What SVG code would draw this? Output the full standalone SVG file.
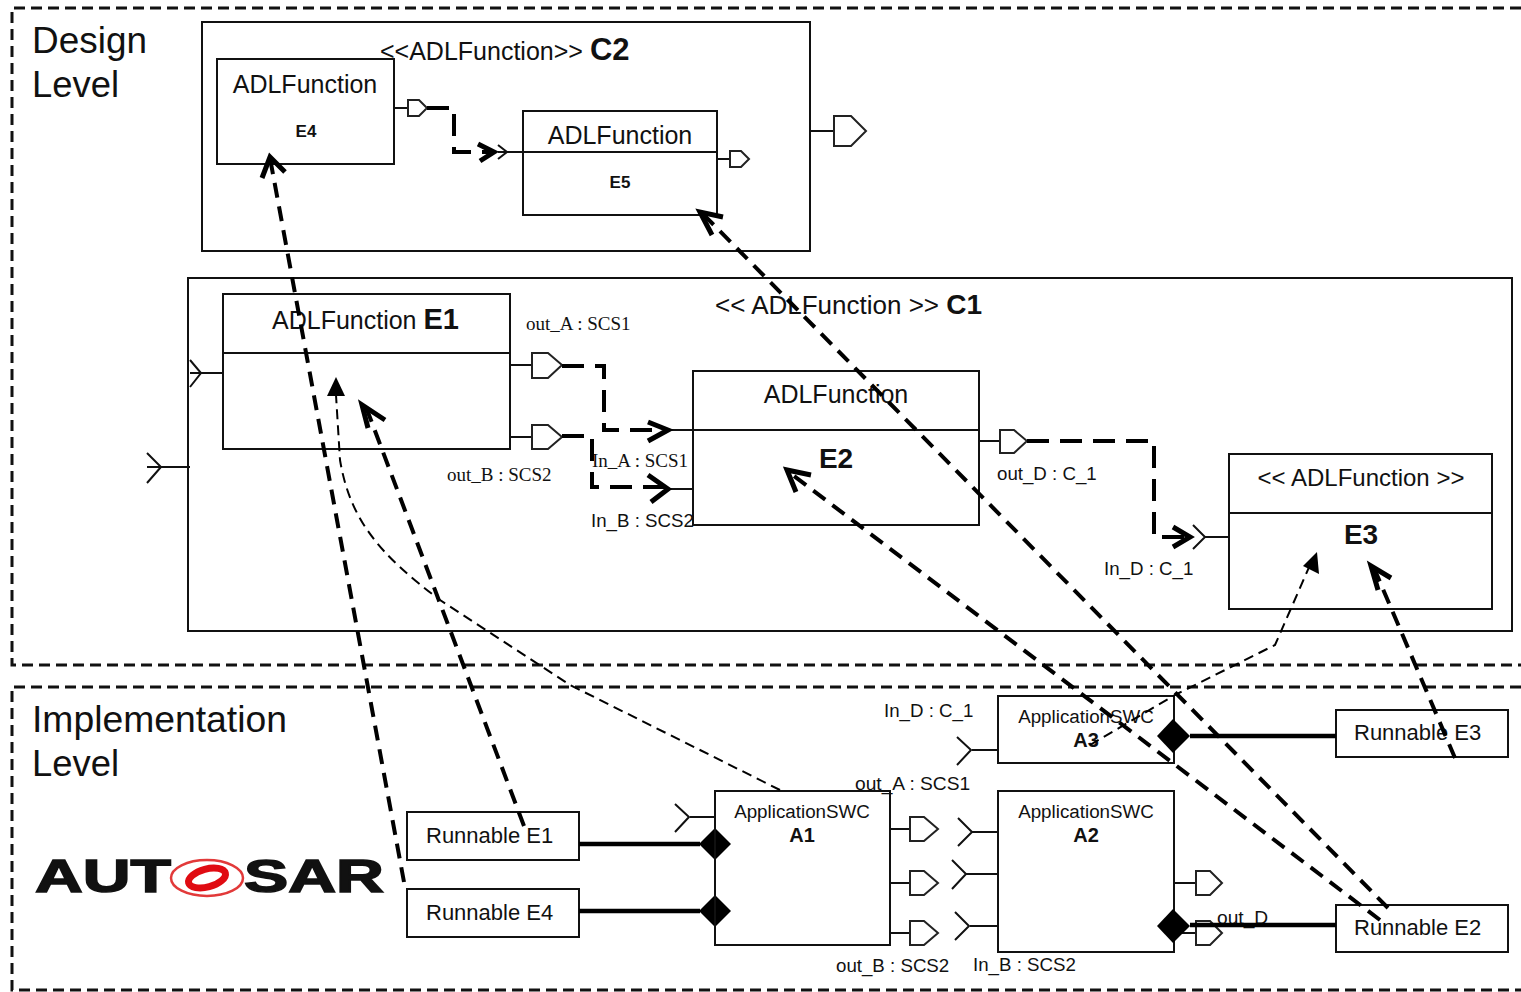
<svg xmlns="http://www.w3.org/2000/svg" width="1521" height="992" viewBox="0 0 1521 992">
<style>
text{font-family:"Liberation Sans",Arial,sans-serif;fill:#111}
.s{font-family:"Liberation Serif","Times New Roman",serif;font-size:19px}
.t{font-size:37px}.m{font-size:25px}.l{font-size:18.8px}.r{font-size:22px}.p{font-size:18.7px}
.b{font-weight:bold}
.box{fill:#fff;stroke:#111;stroke-width:2}
.nf{fill:none;stroke:#111;stroke-width:2}
.port{fill:#fff;stroke:#222;stroke-width:2}
.thk{fill:none;stroke:#000;stroke-width:4;stroke-dasharray:22 11}
.tr{fill:none;stroke:#000;stroke-width:4;stroke-dasharray:15 9}
.tn{fill:none;stroke:#000;stroke-width:2;stroke-dasharray:10 6}
.frame{fill:none;stroke:#111;stroke-width:3;stroke-dasharray:11 6}
.ah{fill:none;stroke:#000;stroke-width:5}
.w{fill:none;stroke:#000;stroke-width:4.5}
.h{fill:#000;stroke:none}
.logo{font-weight:bold;font-size:46px;stroke:#111;stroke-width:1.5}
</style>
<g id="frames">
<path class="frame" d="M1521 8H12V665H1521"/>
<path class="frame" d="M1521 687H12V990H1521"/>
<text class="t" x="32" y="53" textLength="115" lengthAdjust="spacingAndGlyphs">Design</text>
<text class="t" x="32" y="97" textLength="87" lengthAdjust="spacingAndGlyphs">Level</text>
<text class="t" x="32" y="732" textLength="255" lengthAdjust="spacingAndGlyphs">Implementation</text>
<text class="t" x="32" y="776" textLength="87" lengthAdjust="spacingAndGlyphs">Level</text>
</g>
<g id="logo">
<text class="logo" x="35" y="892" textLength="136" lengthAdjust="spacingAndGlyphs">AUT</text>
<ellipse cx="207" cy="878" rx="36" ry="18" fill="none" stroke="#e23a3a" stroke-width="2.5"/>
<ellipse cx="207" cy="878" rx="19" ry="9" fill="none" stroke="#e00b12" stroke-width="7" transform="rotate(-15 207 878)"/>
<text class="logo" x="244" y="892" textLength="140" lengthAdjust="spacingAndGlyphs">SAR</text>
</g>
<g id="C2">
<rect class="box" x="202" y="22" width="608" height="229"/>
<text class="m" x="380" y="60">&lt;&lt;ADLFunction&gt;&gt; <tspan class="b" font-size="31">C2</tspan></text>
<path class="nf" d="M810 131H834"/>
<path class="port" d="M834 116H851L866 131L851 146H834Z"/>
</g>
<g id="E4">
<rect class="box" x="217" y="59" width="177" height="105"/>
<text class="m" x="305" y="93" text-anchor="middle">ADLFunction</text>
<text class="b" x="306" y="137" font-size="17" text-anchor="middle">E4</text>
<path class="nf" d="M394 108H408"/>
<path class="port" d="M408 100H419L427 108L419 116H408Z"/>
</g>
<g id="E5">
<rect class="box" x="523" y="111" width="194" height="104"/>
<path class="nf" d="M523 152H717M498 152H523M717 159H730"/>
<path class="nf" d="M498 145L507 152L498 159"/>
<text class="m" x="620" y="144" text-anchor="middle">ADLFunction</text>
<text class="b" x="620" y="188" font-size="17" text-anchor="middle">E5</text>
<path class="port" d="M730 151H741L749 159L741 167H730Z"/>
</g>
<g id="C1">
<rect class="box" x="188" y="278" width="1324" height="353"/>
<text x="715" y="314" font-size="26">&lt;&lt; ADLFunction &gt;&gt; <tspan class="b" font-size="28">C1</tspan></text>
<path class="nf" d="M147 467H190M147 453L161 467L147 483"/>
</g>
<g id="E1">
<rect class="box" x="223" y="294" width="287" height="155"/>
<path class="nf" d="M223 353H510M190 373H223M190 360L201 373L190 387M510 365H532M510 437H532"/>
<text class="m" x="272" y="329">ADLFunction <tspan class="b" font-size="29">E1</tspan></text>
<path class="port" d="M532 353H548L562 365L548 378H532Z"/>
<path class="port" d="M532 425H548L562 437L548 449H532Z"/>
<text class="s" x="526" y="330">out_A : SCS1</text>
<text class="s" x="447" y="481">out_B : SCS2</text>
</g>
<g id="E2">
<rect class="box" x="693" y="371" width="286" height="154"/>
<path class="nf" d="M693 430H979M669 430H693M669 489H693M979 441H1000"/>
<text class="m" x="836" y="403" text-anchor="middle">ADLFunction</text>
<text class="b" x="836" y="468" font-size="28" text-anchor="middle">E2</text>
<path class="port" d="M1000 430H1014L1027 441L1014 453H1000Z"/>
<text class="s" x="592" y="467">In_A : SCS1</text>
<text class="p" x="591" y="527">In_B : SCS2</text>
<text class="p" x="997" y="480">out_D : C_1</text>
</g>
<g id="E3">
<rect class="box" x="1229" y="454" width="263" height="155"/>
<path class="nf" d="M1229 513H1492M1204 537H1229M1193 525L1205 537L1193 549"/>
<text x="1361" y="486" font-size="24" text-anchor="middle">&lt;&lt; ADLFunction &gt;&gt;</text>
<text class="b" x="1361" y="544" font-size="28" text-anchor="middle">E3</text>
<text class="p" x="1104" y="575">In_D : C_1</text>
</g>
<g id="A1">
<rect class="box" x="715" y="791" width="175" height="154"/>
<text class="l" x="802" y="818" text-anchor="middle">ApplicationSWC</text>
<text class="b" x="802" y="842" font-size="20" text-anchor="middle">A1</text>
<path class="nf" d="M690 817H715M675 804L689 817L675 832M890 829H910M890 883H910M890 933H910"/>
<path class="port" d="M910 817H924L938 829L924 841H910Z"/>
<path class="port" d="M910 871H924L938 883L924 895H910Z"/>
<path class="port" d="M910 921H924L938 933L924 945H910Z"/>
<text x="855" y="790" font-size="19.2">out_A : SCS1</text>
<text class="p" x="836" y="972">out_B : SCS2</text>
<path class="h" d="M715 828L731 844L715 860L699 844Z"/>
<path class="h" d="M715 895L731 911L715 927L699 911Z"/>
</g>
<g id="A2">
<rect class="box" x="998" y="791" width="176" height="161"/>
<text class="l" x="1086" y="818" text-anchor="middle">ApplicationSWC</text>
<text class="b" x="1086" y="842" font-size="20" text-anchor="middle">A2</text>
<path class="nf" d="M972 832H998M958 818L972 832L958 846M966 874H998M952 860L966 874L952 889M970 926H998M955 912L969 926L955 940M1174 883H1196M1174 933H1196"/>
<path class="port" d="M1196 871H1210L1222 883L1210 895H1196Z"/>
<path class="port" d="M1196 921H1210L1222 933L1210 945H1196Z"/>
<text class="p" x="973" y="971">In_B : SCS2</text>
<text x="1217" y="924" font-size="19.2">out_D</text>
<path class="h" d="M1173 909L1190 926L1173 943L1157 926Z"/>
</g>
<g id="A3">
<rect class="box" x="998" y="696" width="176" height="67"/>
<text class="l" x="1086" y="723" text-anchor="middle">ApplicationSWC</text>
<text class="b" x="1086" y="747" font-size="20" text-anchor="middle">A3</text>
<path class="nf" d="M972 750H998M957 737L971 750L957 765"/>
<text class="p" x="884" y="717">In_D : C_1</text>
<path class="h" d="M1173 719L1190 736L1173 753L1157 736Z"/>
</g>
<g id="RE1"><rect class="box" x="407" y="812" width="172" height="48"/><text class="r" x="426" y="843">Runnable E1</text></g>
<g id="RE4"><rect class="box" x="407" y="889" width="172" height="48"/><text class="r" x="426" y="920">Runnable E4</text></g>
<g id="RE3"><rect class="box" x="1336" y="710" width="172" height="47"/><text class="r" x="1354" y="740">Runnable E3</text></g>
<g id="RE2"><rect class="box" x="1336" y="905" width="172" height="47"/><text class="r" x="1354" y="935">Runnable E2</text></g>
<g id="connectors">
<path class="w" d="M579 844H700M579 911H700M1190 736H1336M1190 925H1336"/>
<path class="nf" d="M715 791V945"/>
<path class="thk" d="M562 366H604V430H664"/>
<path class="thk" d="M562 436H592V487H664"/>
<path class="thk" d="M1027 441H1154V537H1188"/>
<path class="thk" d="M427 108H454V152H492"/>
<path class="ah" d="M648 422L668 430L648 441M648 475L668 489L651 502M1173 527L1190 537L1173 547M478 144L494 152L480 161"/>
<path class="tr" d="M404 882L270 158"/>
<path class="tr" d="M524 826L366 407"/>
<path class="tr" d="M1388 908L703 214"/>
<path class="tr" d="M1380 920L790 473"/>
<path class="tr" d="M1455 758L1374 568"/>
<path class="tn" d="M780 790L570 685L440 600C380 555 350 520 340 460L336 395"/>
<path class="tn" d="M1090 745L1175 695L1275 645L1310 565"/>
<path class="h" d="M336 377L345 396L327 396Z"/>
<path class="h" d="M1317 552L1319 574L1303 566Z"/>
<path class="ah" d="M262 178L270 157L285 172"/>
<path class="ah" d="M368 428L362 405L385 420"/>
<path class="ah" d="M712 235L700 212L723 217"/>
<path class="ah" d="M796 492L787 470L811 475"/>
<path class="ah" d="M1378 590L1371 566L1391 578"/>
</g>
</svg>
